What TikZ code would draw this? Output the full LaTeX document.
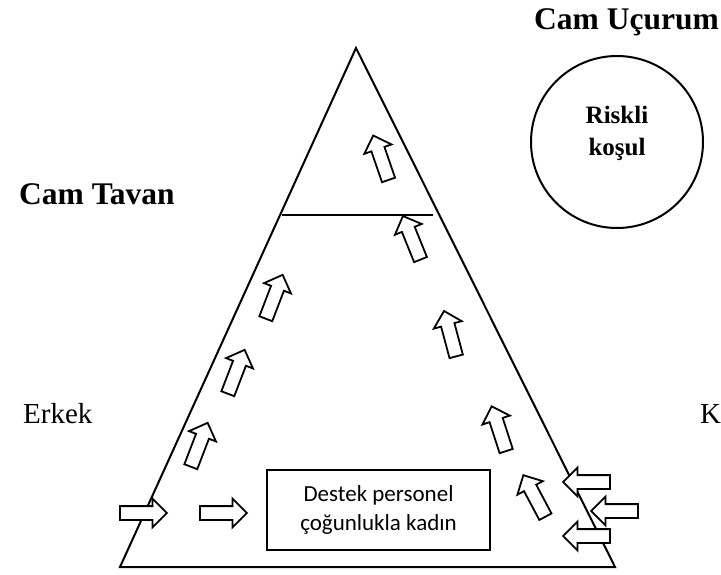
\documentclass[tikz,border=0pt]{standalone}
\usepackage{fontspec}
\setmainfont{Liberation Serif}
\newfontfamily\boxfont{Carlito}
\usetikzlibrary{shapes.arrows}
\begin{document}
\begin{tikzpicture}[x=1pt,y=-1pt,
  blockarrow/.style={single arrow, draw=black, fill=white, line width=1.8pt,
    minimum height=47pt, inner xsep=0pt, inner ysep=6pt, single arrow head extend=7.5pt,
    single arrow head indent=0pt},
  edge/.style={line width=2pt, line join=miter},
  thinline/.style={line width=1.2pt},
  titletext/.style={font=\fontsize{31.5}{36}\selectfont\bfseries, inner sep=0pt, anchor=base west},
  sidetext/.style={font=\fontsize{29}{34}\selectfont, inner sep=0pt, anchor=base west},
  supportbox/.style={draw, line width=2.2pt, minimum width=223pt, minimum height=80pt,
    align=center, font=\boxfont\fontsize{23}{29}\selectfont},
  riskcircle/.style={draw, circle, line width=2pt, minimum size=172pt},
  risktext/.style={align=center, inner sep=0pt, font=\fontsize{25}{32}\selectfont\bfseries}]
\useasboundingbox (0,0) rectangle (721,575);
% triangle
\coordinate (apex) at (356,48);
\coordinate (bl) at (120,567);
\coordinate (br) at (615,567);
\draw[edge] (apex) -- (bl) -- (br) -- cycle;
\coordinate (ceilL) at (282,215);
\coordinate (ceilR) at (433,215);
\draw[thinline] (ceilL) -- (ceilR);
% texts
\node[titletext] (ucurum) at (534,30) {Cam Uçurum};
\node[titletext] (tavan) at (19,205) {Cam Tavan};
\node[sidetext] (erkek) at (23,423) {Erkek};
\node[sidetext] (kadin) at (700,423) {K};
% circle and box
\node[riskcircle] (risk) at (617,142) {};
\node[risktext] (risklbl) at (617,133) {Riskli\\koşul};
\node[supportbox] (destek) at (378.5,510) {Destek personel\\çoğunlukla kadın};
% horizontal arrows
\node[blockarrow] (h1) at (140,513) {};
\node[blockarrow] (h2) at (220,513) {};
\node[blockarrow, rotate=180] (l1) at (590,482) {};
\node[blockarrow, rotate=180] (l2) at (618,511) {};
\node[blockarrow, rotate=180] (l3) at (590,536) {};
% left upward arrows
\node[blockarrow, rotate=69] (a1) at (198,448) {};
\node[blockarrow, rotate=69] (a2) at (235,375) {};
\node[blockarrow, rotate=69] (a3) at (273,300) {};
% right upward arrows
\node[blockarrow, rotate=109] (b1) at (382,161) {};
\node[blockarrow, rotate=112] (b2) at (413,241) {};
\node[blockarrow, rotate=105] (b3) at (451,337) {};
\node[blockarrow, rotate=108] (b4) at (500,432) {};
\node[blockarrow, rotate=118] (b5) at (536,499) {};
\end{tikzpicture}
\end{document}
